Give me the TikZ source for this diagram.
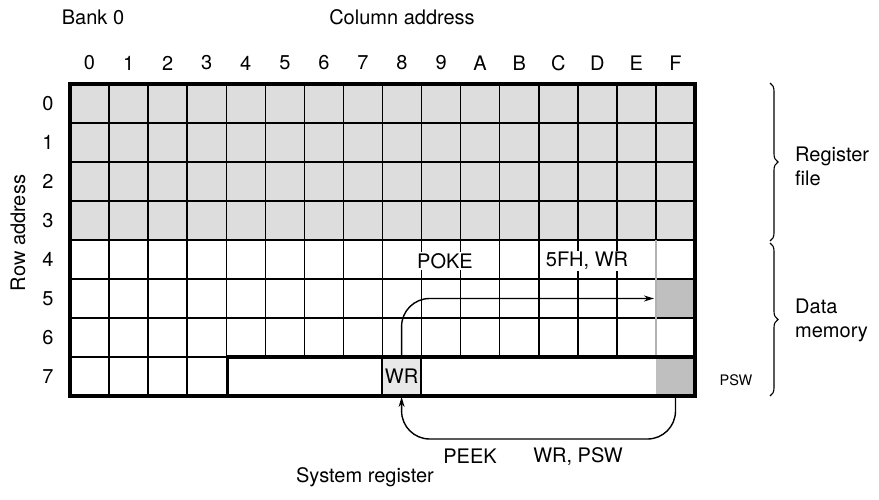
\documentclass[tikz,border=0pt]{standalone}
\usepackage{fontspec}
\setmainfont{TeX Gyre Heros}
\usetikzlibrary{arrows.meta,decorations.pathreplacing}

\tikzset{
  lbl/.style={font=\fontsize{20}{24}\selectfont, inner sep=1pt},
  smalllbl/.style={font=\fontsize{14.5}{16}\selectfont, inner sep=1pt},
  gridline/.style={line width=1.5pt},
  frame/.style={line width=3.3pt},
  cell/.style={minimum width=39.0625pt, minimum height=39pt, inner sep=0pt, outer sep=0pt},
  regfill/.style={fill=gray!27},
  darkfill/.style={fill=gray!50},
  flow/.style={line width=1.4pt, rounded corners=28pt, -{Stealth[length=10pt,width=6pt]}},
  bracket/.style={decorate, decoration={brace, amplitude=8pt}, line width=1.1pt}
}

\begin{document}
\begin{tikzpicture}[x=1pt, y=-1pt]
    \useasboundingbox (0,0) rectangle (879,500);

    % Titles
    \node[lbl] (bank) at (93,17) {Bank 0};
    \node[lbl] (coltitle) at (402,17) {Column address};
    \node[lbl, rotate=90] (rowtitle) at (18,233) {Row address};

    % Column and row addresses
    \foreach \c [count=\i from 0] in {0,1,2,3,4,5,6,7,8,9,A,B,C,D,E,F}
        \node[lbl] (c\c) at (89.5+\i*39.0625, 63) {\c};
    \foreach \r in {0,...,7}
        \node[lbl] (r\r) at (48, 103.5+\r*39) {\r};

    % Shaded areas
    \fill[regfill] (70,84) rectangle (695,240);
    \node[cell, darkfill] (f5) at (675.5,298.5) {};
    \node[cell, darkfill] (f7) at (675.5,376.5) {};

    % Grid
    \foreach \k in {1,...,6}
        \draw[gridline] (70,84+\k*39) -- (695,84+\k*39);
    \draw[gridline] (70,357) -- (227,357);
    \foreach \i in {1,...,14}
        \draw[gridline] (70+\i*39.0625,84) -- (70+\i*39.0625,357);
    \draw[gridline] (655.9,84) -- (655.9,240);
    \draw[gridline, gray!60] (655.9,240) -- (655.9,357);
    \foreach \i in {1,2,3}
        \draw[gridline] (70+\i*39.0625,357) -- (70+\i*39.0625,396);

    % System register WR
    \node[cell, fill=gray!18, draw, line width=1.5pt, lbl] (wr) at (401.6,376.5) {WR};

    % Instructions in row 4
    \node[lbl, fill=white] (poke) at (445,261) {POKE};
    \node[lbl, fill=white] (pokeargs) at (587,261) {5FH, WR};

    % Heavy frames
    \draw[frame] (227.2,396) -- (227.2,357) -- (695,357);
    \draw[frame] (70,84) rectangle (695,396);

    % Data paths
    \draw[flow, shorten >=2pt] (wr.north) |- (f5.west);
    \draw[flow, shorten >=1pt] (f7.south) -- ++(0,43) -| (wr.south);

    \node[lbl] (peek) at (470,456) {PEEK};
    \node[lbl] (peekargs) at (578,456) {WR, PSW};
    \node[lbl] (sysreg) at (365,477) {System register};
    \node[smalllbl] (psw) at (736,380) {PSW};

    % Braces
    \draw[bracket] (770,83) -- (770,241);
    \draw[bracket] (770,243) -- (770,396);
    \node[lbl, align=left, anchor=west] (regfile) at (794,166) {Register\\file};
    \node[lbl, align=left, anchor=west] (datamem) at (794,320) {Data\\memory};
\end{tikzpicture}
\end{document}
